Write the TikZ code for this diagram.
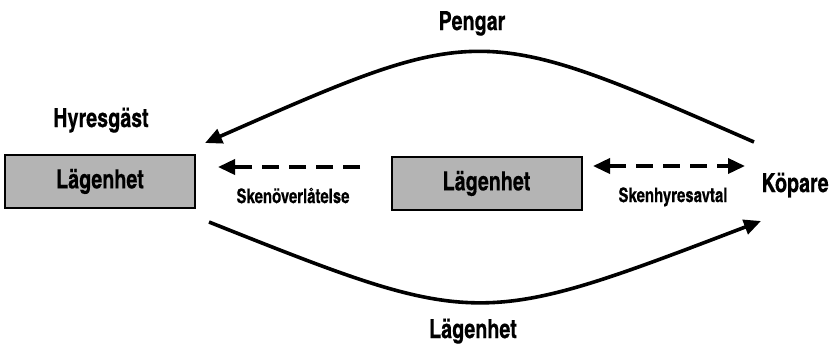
\documentclass[tikz,border=0pt]{standalone}
\usepackage{fontspec}
\setmainfont{texgyreheroscn-bold.otf}[FakeStretch=0.91, FakeBold=0.3]
\usepackage{tikz}
\usetikzlibrary{arrows.meta, positioning}
\tikzstyle{gbox} = [rectangle, draw, line width=1pt, fill={rgb,255:red,180;green,180;blue,180}, minimum width=95pt, minimum height=26.5pt, inner sep=0pt, font=\fontsize{13.2}{15}\selectfont]
\tikzstyle{blbl} = [inner sep=0pt, anchor=base, font=\fontsize{13.2}{15}\selectfont]
\tikzstyle{slbl} = [inner sep=0pt, anchor=base, font=\fontsize{10}{12}\selectfont]
\tikzstyle{line} = [draw, line width=1.8pt, -{Triangle[length=8.5pt, width=7.5pt]}]
\tikzstyle{dline} = [draw, line width=1.8pt, dash pattern=on 8.5pt off 5pt]

\begin{document}
\begin{tikzpicture}[x=0.5pt, y=-0.5pt]
				\useasboundingbox (0,0) rectangle (837,345);
				\node [gbox] (hbox) at (100,181.5) {Lägenhet};
				\node [gbox] (mbox) at (486.5,183.5) {Lägenhet};
				\node [blbl] (hyr) at (101,127) {Hyresgäst};
				\node [blbl] (kop) at (795,192) {Köpare};
				\node [blbl] (peng) at (472,30) {Pengar};
				\node [blbl] (lag) at (473,338) {Lägenhet};
				\node [slbl] (sko) at (293,203) {Skenöverlåtelse};
				\node [slbl] (skh) at (673,202) {Skenhyresavtal};

				\coordinate (t1) at (754,142);
				\coordinate (t2) at (205,143);
				\coordinate (b1) at (209,222);
				\coordinate (b2) at (761,221);
				\coordinate (d1) at (360,167);
				\coordinate (d2) at (218,167);
				\coordinate (d3) at (593,166);
				\coordinate (d4) at (745,166);

				\path [line] (t1) .. controls (480,22) .. (t2);
				\path [line] (b1) .. controls (478,329) .. (b2);
				\path [line, dline] (d1) -- (d2);
				\path [line, dline, {Triangle[length=8.5pt, width=7.5pt]}-{Triangle[length=8.5pt, width=7.5pt]}] (d3) -- (d4);
			\end{tikzpicture}
\end{document}
